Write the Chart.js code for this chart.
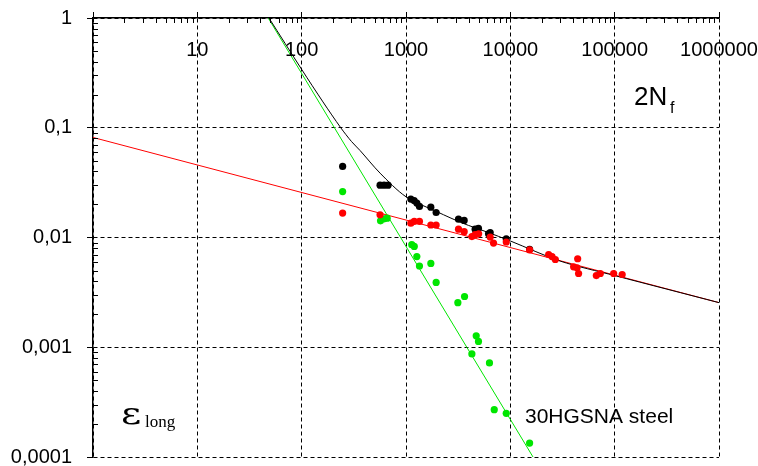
<!DOCTYPE html>
<html>
<head>
<meta charset="utf-8">
<script src="https://cdn.jsdelivr.net/npm/chart.js@4/dist/chart.umd.min.js"></script>
<style>
html, body { margin: 0; padding: 0; background: #fff; }
#wrap { width: 758px; height: 466px; }
</style>
</head>
<body>
<div id="wrap"><canvas id="chart"></canvas></div>
<script>
// axis ticks
var xTickValues = [1, 10, 100, 1000, 10000, 100000, 1000000];
var xTickLabels = ['', '10', '100', '1000', '10000', '100000', '1000000'];
var yTickValues = [1, 0.1, 0.01, 0.001, 0.0001];
var yTickLabels = ['1', '0,1', '0,01', '0,001', '0,0001'];

// fitted lines
var elasticFitX = [1, 1000000];
var elasticFitY = [0.0816, 0.00255];
var plasticFitX = [47.8, 16500];
var plasticFitY = [1, 0.0001];
var totalFitX = [48.6, 100, 160, 237, 300, 363, 564, 1000, 2000, 3500, 6000, 10000, 30000, 100000, 1000000];
var totalFitY = [1, 0.34, 0.172, 0.1, 0.075, 0.062, 0.0386, 0.0235, 0.0171, 0.0135, 0.0112, 0.0093, 0.0061, 0.0045, 0.00255];

// measured points
var totalX = [247, 564, 616, 673, 1112, 1197, 1270, 1346, 1730, 1945, 3185, 3610, 4600, 4950, 6180, 6410, 9140, 15300];
var totalY = [0.0444, 0.030, 0.030, 0.030, 0.0224, 0.0217, 0.0206, 0.0192, 0.0189, 0.0169, 0.0147, 0.0143, 0.0119, 0.0121, 0.0108, 0.0111, 0.0097, 0.0078];

var elasticX = [247, 564, 1112, 1200, 1346, 1730, 1945, 3185, 3610, 4280, 4600, 4970, 6410, 6900, 9140, 15300, 23300, 25100, 27000, 44200, 40400, 43600, 45100, 66700, 72900, 97800, 118000];
var elasticY = [0.0167, 0.0161, 0.0135, 0.0140, 0.0140, 0.0130, 0.0130, 0.0119, 0.0113, 0.0102, 0.0106, 0.0108, 0.0101, 0.0089, 0.0091, 0.0077, 0.0070, 0.0067, 0.0063, 0.0064, 0.0054, 0.0053, 0.0047, 0.0045, 0.0047, 0.0047, 0.0046];

var plasticX = [247, 570, 620, 660, 1136, 1200, 1270, 1346, 1730, 1945, 3140, 3640, 4710, 4950, 4280, 6310, 7010, 9140, 15300];
var plasticY = [0.0262, 0.0142, 0.0148, 0.0150, 0.0086, 0.0083, 0.0067, 0.0055, 0.0058, 0.0039, 0.00255, 0.0029, 0.00127, 0.00113, 0.00087, 0.00072, 0.00027, 0.00025, 0.000134];

var RED = '#ff0000';
var GREEN = '#00e600';
var FONT = 'Liberation Sans, Arial, sans-serif';

function toPoints(xs, ys) {
    return xs.map(function(x, i) { return { x: x, y: ys[i] }; });
}

// minor ticks, x labels and the text notes
var decorPlugin = {
    id: 'decor',
    afterDraw: function(chart) {
        const ctx = chart.ctx;
        const area = chart.chartArea;
        const xs = chart.scales.x;
        const ys = chart.scales.y;
        ctx.save();
        ctx.strokeStyle = '#000';
        ctx.lineWidth = 1;
        ctx.beginPath();
        for (let d = 0; d < 6; d++) {
            for (let k = 2; k <= 9; k++) {
                const px = Math.round(xs.getPixelForValue(k * Math.pow(10, d))) + 0.5;
                ctx.moveTo(px, area.top);
                ctx.lineTo(px, area.top + 5);
            }
        }
        for (let d = -4; d < 0; d++) {
            for (let k = 2; k <= 9; k++) {
                const py = Math.round(ys.getPixelForValue(k * Math.pow(10, d))) + 0.5;
                ctx.moveTo(area.left, py);
                ctx.lineTo(area.left + 5, py);
            }
        }
        ctx.stroke();

        ctx.fillStyle = '#000';
        ctx.font = '20px ' + FONT;
        ctx.textAlign = 'center';
        ctx.textBaseline = 'middle';
        for (let i = 0; i < xTickValues.length; i++) {
            if (!xTickLabels[i]) continue;
            ctx.fillText(xTickLabels[i], xs.getPixelForValue(xTickValues[i]), area.top + 32);
        }

        ctx.textAlign = 'left';
        ctx.textBaseline = 'alphabetic';
        ctx.font = '26px ' + FONT;
        ctx.fillText('2N', 634, 105);
        ctx.font = '16px ' + FONT;
        ctx.fillText('f', 670, 113);

        // wide epsilon like the symbol font of the original
        ctx.save();
        ctx.translate(121, 424);
        ctx.scale(1.3, 1);
        ctx.font = '30px DejaVu Serif, serif';
        ctx.fillText('\u03b5', 0, 0);
        ctx.restore();
        ctx.font = '17px Liberation Serif, Times New Roman, serif';
        ctx.fillText('long', 145, 427);

        ctx.font = '21px ' + FONT;
        ctx.fillText('30HGSNA steel', 525, 423);
        ctx.restore();
    }
};

new Chart(document.getElementById('chart'), {
    type: 'scatter',
    data: {
        datasets: [
            {
                label: 'elastic points',
                data: toPoints(elasticX, elasticY),
                backgroundColor: RED,
                borderWidth: 0,
                pointRadius: 3.6
            },
            {
                label: 'plastic points',
                data: toPoints(plasticX, plasticY),
                backgroundColor: GREEN,
                borderWidth: 0,
                pointRadius: 3.6
            },
            {
                label: 'total points',
                data: toPoints(totalX, totalY),
                backgroundColor: '#000',
                borderWidth: 0,
                pointRadius: 3.6
            },
            {
                label: 'total fit',
                data: toPoints(totalFitX, totalFitY),
                showLine: true,
                borderColor: '#000',
                borderWidth: 1,
                pointRadius: 0,
                tension: 0.3,
                clip: 4
            },
            {
                label: 'elastic fit',
                data: toPoints(elasticFitX, elasticFitY),
                showLine: true,
                borderColor: RED,
                borderWidth: 1,
                pointRadius: 0
            },
            {
                label: 'plastic fit',
                data: toPoints(plasticFitX, plasticFitY),
                showLine: true,
                borderColor: GREEN,
                borderWidth: 1,
                pointRadius: 0,
                clip: 4
            }
        ]
    },
    options: {
        responsive: true,
        maintainAspectRatio: false,
        animation: false,
        events: [],
        layout: { padding: { left: 0, top: 0, right: 39, bottom: 9 } },
        plugins: {
            legend: { display: false },
            tooltip: { enabled: false }
        },
        scales: {
            x: {
                type: 'logarithmic',
                position: 'top',
                min: 1,
                max: 1000000,
                afterBuildTicks: function(scale) {
                    scale.ticks = xTickValues.map(function(v) { return { value: v, major: true }; });
                },
                afterFit: function(scale) {
                    scale.height = 18;
                    scale.paddingLeft = 0;
                    scale.paddingRight = 0;
                },
                ticks: { display: false },
                grid: { color: '#000', lineWidth: 1, tickLength: 6, tickColor: '#000' },
                border: { display: true, color: '#000', width: 1.5, dash: [4, 3] }
            },
            y: {
                type: 'logarithmic',
                position: 'left',
                min: 0.0001,
                max: 1,
                afterBuildTicks: function(scale) {
                    scale.ticks = yTickValues.map(function(v) { return { value: v, major: true }; });
                },
                afterFit: function(scale) {
                    scale.width = 93;
                    scale.paddingTop = 0;
                    scale.paddingBottom = 0;
                },
                ticks: {
                    color: '#000',
                    font: { family: FONT, size: 20 },
                    padding: 15,
                    callback: function(value, index) { return yTickLabels[index]; }
                },
                grid: { color: '#000', lineWidth: 1, tickLength: 6, tickColor: '#000' },
                border: { display: true, color: '#000', width: 1.5, dash: [4, 3] }
            }
        }
    },
    plugins: [decorPlugin]
});
</script>
</body>
</html>
